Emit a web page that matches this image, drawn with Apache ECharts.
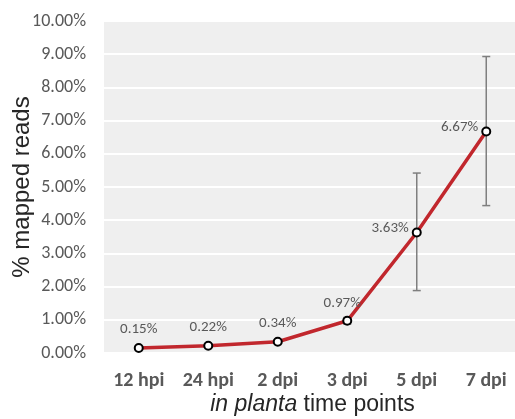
<!DOCTYPE html>
<html>
<head>
<meta charset="utf-8">
<script src="https://cdn.jsdelivr.net/npm/echarts@6/dist/echarts.min.js"></script>
<style>
html, body { margin: 0; padding: 0; background: #fff; }
#main { width: 515px; height: 419px; }
</style>
</head>
<body>
<div id="main"></div>
<script type="text/javascript">
// 数据
var categories = ['12 hpi', '24 hpi', '2 dpi', '3 dpi', '5 dpi', '7 dpi'];
var mapped = [0.15, 0.22, 0.34, 0.97, 3.63, 6.67];
var errLow = [0.12, 0.19, 0.30, 0.87, 1.88, 4.44];
var errHigh = [0.18, 0.25, 0.38, 1.07, 5.42, 8.93];
var labelPos = ['top', 'top', 'top', 'top', 'left', 'left'];

var labelFont = 'Carlito, Lato, sans-serif';
var titleFont = '"Liberation Sans", Arial, sans-serif';

var myChart = echarts.init(document.getElementById('main'));

var lineData = mapped.map(function (v, i) {
    var item = { value: v, label: { position: labelPos[i] } };
    if (i === 3) { item.label.offset = [-5, 1]; }
    if (i >= 4) { item.label.distance = 3; item.label.offset = [0, -4]; }
    return item;
});

var option = {
    animation: false,
    grid: {
        left: 104, width: 417, top: 21, bottom: 66,
        outerBoundsMode: 'none',
        show: true, backgroundColor: '#efefef', borderWidth: 0
    },
    xAxis: {
        type: 'category',
        data: categories,
        axisLine: { show: false },
        axisTick: { show: false },
        axisLabel: { fontFamily: labelFont, fontWeight: 'bold', fontSize: 20, color: '#595959', margin: 18 },
        name: '{i|in planta} time points',
        nameLocation: 'middle',
        nameGap: 40,
        nameMoveOverlap: false,
        nameTextStyle: {
            fontFamily: titleFont, fontSize: 23, color: '#262626',
            rich: { i: { fontFamily: titleFont, fontSize: 23, fontStyle: 'italic', color: '#262626' } }
        }
    },
    yAxis: {
        type: 'value',
        min: 0, max: 10, interval: 1,
        axisLine: { show: false },
        axisTick: { show: false },
        splitLine: { lineStyle: { color: '#ffffff', width: 2 } },
        axisLabel: {
            fontFamily: labelFont, fontSize: 18, color: '#595959', margin: 18,
            formatter: function (v) { return v.toFixed(2) + '%'; }
        },
        name: '% mapped reads',
        nameLocation: 'middle',
        nameGap: 70,
        nameMoveOverlap: false,
        nameTextStyle: { fontFamily: titleFont, fontSize: 24, color: '#262626' }
    },
    series: [
        {
            name: 'error',
            type: 'custom',
            z: 1,
            data: categories.map(function (c, i) { return [i, errLow[i], errHigh[i]]; }),
            renderItem: function (params, api) {
                var lo = api.coord([api.value(0), api.value(1)]);
                var hi = api.coord([api.value(0), api.value(2)]);
                var cap = 4;
                var style = { stroke: '#7f7f7f', lineWidth: 1.5 };
                return {
                    type: 'group',
                    children: [
                        { type: 'line', shape: { x1: hi[0], y1: hi[1], x2: lo[0], y2: lo[1] }, style: style },
                        { type: 'line', shape: { x1: hi[0] - cap, y1: hi[1], x2: hi[0] + cap, y2: hi[1] }, style: style },
                        { type: 'line', shape: { x1: lo[0] - cap, y1: lo[1], x2: lo[0] + cap, y2: lo[1] }, style: style }
                    ]
                };
            }
        },
        {
            name: 'mapped',
            type: 'line',
            z: 3,
            data: lineData,
            symbol: 'circle',
            symbolSize: 8,
            lineStyle: { color: '#c1272d', width: 3.5 },
            itemStyle: { color: '#ffffff', borderColor: '#000000', borderWidth: 2 },
            label: {
                show: true,
                distance: 6,
                fontFamily: labelFont, fontSize: 15, color: '#595959',
                formatter: function (p) { return p.value.toFixed(2) + '%'; }
            }
        }
    ]
};

myChart.setOption(option);
</script>
</body>
</html>
